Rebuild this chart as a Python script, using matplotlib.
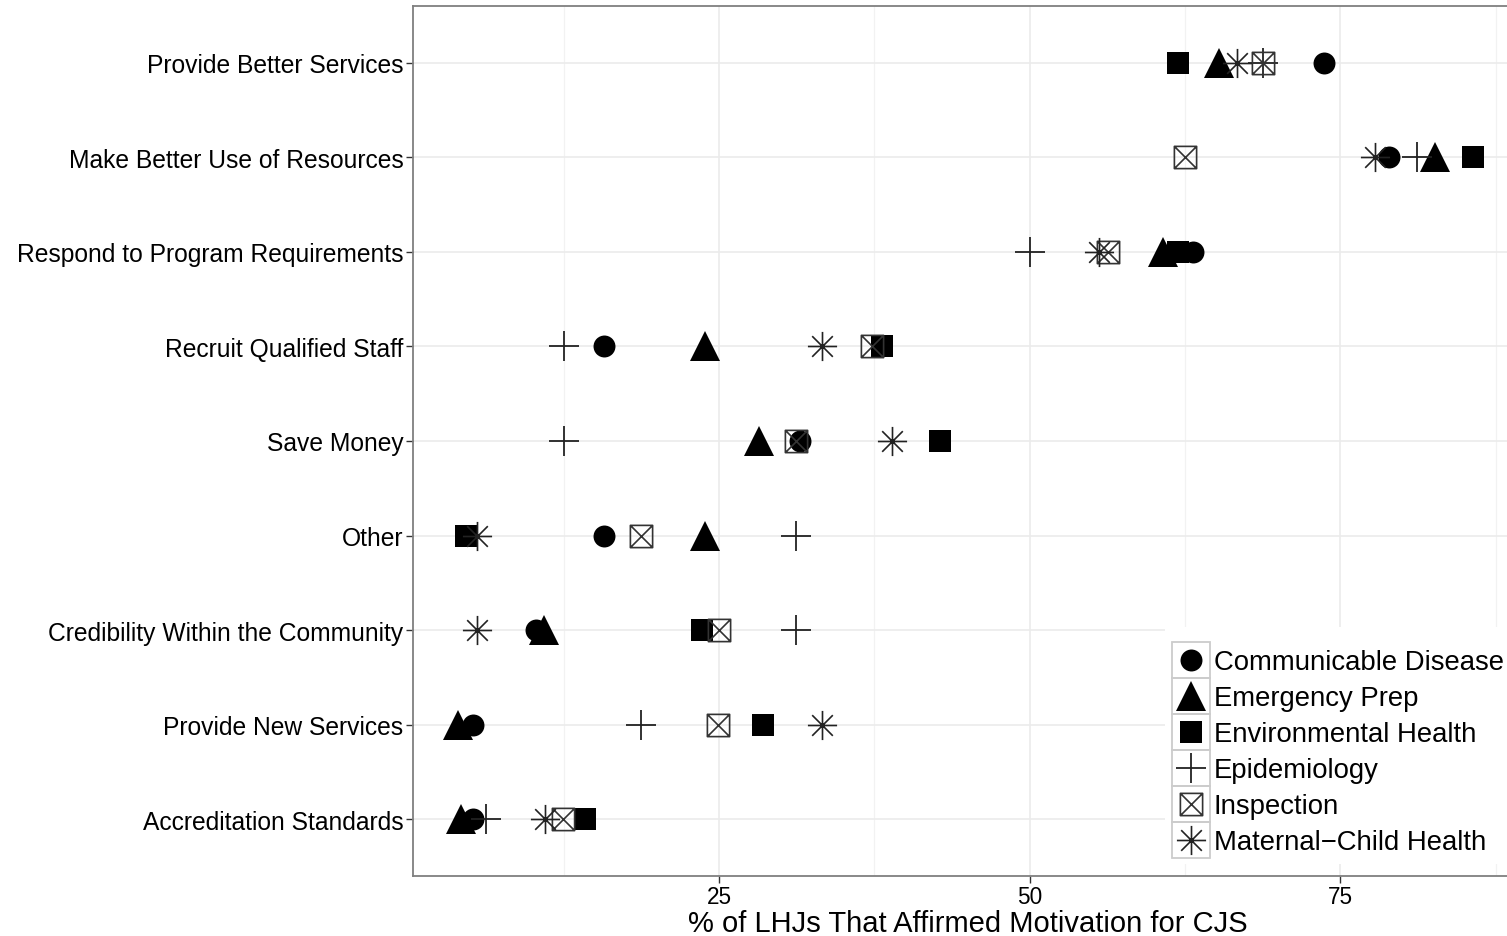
import numpy as np
import matplotlib
matplotlib.use("Agg")
import matplotlib.pyplot as plt
from matplotlib.path import Path
from matplotlib.patches import Rectangle

plt.rcParams["font.family"] = ["Liberation Sans", "DejaVu Sans"]

motivations = [
    "Provide Better Services",
    "Make Better Use of Resources",
    "Respond to Program Requirements",
    "Recruit Qualified Staff",
    "Save Money",
    "Other",
    "Credibility Within the Community",
    "Provide New Services",
    "Accreditation Standards",
]

programs = [
    "Communicable Disease",
    "Emergency Prep",
    "Environmental Health",
    "Epidemiology",
    "Inspection",
    "Maternal\u2212Child Health",
]

# % of LHJs per motivation (same order as motivations)
communicable = [73.7, 78.9, 63.1, 15.7, 31.5, 15.7, 10.3, 5.2, 5.2]
emergency = [65.2, 82.6, 60.7, 23.9, 28.2, 23.9, 10.9, 4.0, 4.2]
environmental = [61.9, 85.7, 61.9, 38.1, 42.8, 4.6, 23.6, 28.5, 14.2]
epidemiology = [68.8, 81.2, 50.0, 12.5, 12.5, 31.2, 31.2, 18.7, 6.2]
inspection = [68.8, 62.5, 56.3, 37.3, 31.2, 18.7, 25.0, 24.9, 12.4]
maternal_child = [66.7, 77.8, 55.6, 33.3, 38.9, 5.5, 5.5, 33.3, 11.0]

series = [communicable, emergency, environmental, epidemiology, inspection, maternal_child]

# square with an X through it
crossbox = Path(
    [(-1, -1), (1, -1), (1, 1), (-1, 1), (-1, -1), (-1, -1), (1, 1), (-1, 1), (1, -1)],
    [Path.MOVETO, Path.LINETO, Path.LINETO, Path.LINETO, Path.CLOSEPOLY,
     Path.MOVETO, Path.LINETO, Path.MOVETO, Path.LINETO],
)
# eight-armed asterisk
ang = np.deg2rad([0, 45, 90, 135])
ast_verts, ast_codes = [], []
for a in ang:
    ast_verts += [(np.cos(a), np.sin(a)), (-np.cos(a), -np.sin(a))]
    ast_codes += [Path.MOVETO, Path.LINETO]
asterisk = Path(ast_verts, ast_codes)

styles = [
    dict(marker="o", ms=15.8, mfc="black", mec="black", mew=0),
    dict(marker="^", ms=21.5, mfc="black", mec="black", mew=0),
    dict(marker="s", ms=15.5, mfc="black", mec="black", mew=0),
    dict(marker="+", ms=22, mec="#222222", mew=1.3),
    dict(marker=crossbox, ms=16, mfc="none", mec="#333333", mew=1.2),
    dict(marker=asterisk, ms=21, mec="#222222", mew=1.2),
]

fig = plt.figure(figsize=(15.07, 9.37), dpi=100)
ax = fig.add_axes([413 / 1507, 60 / 937, 1110 / 1507, 870 / 937])

y = np.arange(len(motivations))[::-1]
for vals, st in zip(series, styles):
    ax.plot(vals, y, linestyle="none", zorder=3, **st)

ax.set_xlim(0.36, 89.7)
ax.set_ylim(-0.6, len(motivations) - 0.4)
ax.set_yticks(y)
ax.set_yticklabels(motivations, fontsize=17.7, color="black")
ax.set_xticks([25, 50, 75])
ax.set_xticks([12.5, 37.5, 62.5, 87.5], minor=True)
ax.tick_params(axis="x", which="major", labelsize=16.3, length=5, color="#333333",
               width=1, labelcolor="black", pad=1.5)
ax.tick_params(axis="x", which="minor", length=0)
ax.tick_params(axis="y", length=5, color="#333333", width=1, pad=2)
ax.grid(True, which="major", color="#ebebeb", lw=1.2, zorder=0)
ax.grid(True, which="minor", axis="x", color="#f2f2f2", lw=0.9, zorder=0)
ax.set_axisbelow(True)
for s in ax.spines.values():
    s.set_color("#7f7f7f")
    s.set_linewidth(1.3)

# x axis title sits on the bottom edge, centred under the panel
ax_box = ax.get_position()
fig.text((ax_box.x0 + ax_box.x1) / 2, 5 / 937, "% of LHJs That Affirmed Motivation for CJS",
         fontsize=21, ha="center", va="baseline")

# legend panel with boxed keys
lg = fig.add_axes([1165 / 1507, (937 - 865) / 937, 342 / 1507, 237 / 937])
lg.set_xlim(0, 342)
lg.set_ylim(237, 0)
lg.set_xticks([])
lg.set_yticks([])
for s in lg.spines.values():
    s.set_visible(False)
key_top, key_h, key_x, key_w = 15, 36, 7, 38
for i, (name, st) in enumerate(zip(programs, styles)):
    cy = key_top + key_h * (i + 0.5)
    lg.add_patch(Rectangle((key_x, key_top + key_h * i), key_w, key_h,
                           fill=False, ec="#cccccc", lw=1.3))
    lg.plot([key_x + key_w / 2], [cy], linestyle="none", **st)
    lg.text(key_x + key_w + 4, cy + 2, name, fontsize=19.8, va="center", ha="left")

fig.savefig("out.png", dpi=100)
